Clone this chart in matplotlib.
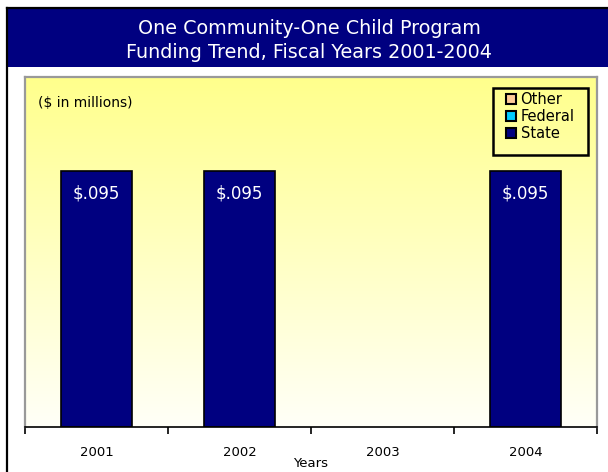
import matplotlib
matplotlib.use("Agg")
import matplotlib.pyplot as plt
import numpy as np
from matplotlib.patches import Rectangle, Patch
from matplotlib.lines import Line2D
from matplotlib.colors import LinearSegmentedColormap

years = ["2001", "2002", "2003", "2004"]
state = [0.095, 0.095, 0.0, 0.095]
federal = [0.0, 0.0, 0.0, 0.0]
other = [0.0, 0.0, 0.0, 0.0]
bar_labels = ["$.095", "$.095", "", "$.095"]
title_lines = ["One Community-One Child Program", "Funding Trend, Fiscal Years 2001-2004"]

navy = "#000080"
fig = plt.figure(figsize=(6.08, 4.72), dpi=100)
fig.patch.set_facecolor("white")

W, H = 608.0, 472.0
def fx(px): return px / W
def fy(py): return 1 - py / H

# outer black border (left and top)
fig.add_artist(Line2D([fx(7), fx(7)], [fy(8), 0], color="black", lw=1.6, transform=fig.transFigure))
fig.add_artist(Line2D([fx(7), 1], [fy(8), fy(8)], color="black", lw=1.6, transform=fig.transFigure))
# title band
fig.add_artist(Rectangle((fx(8), fy(67)), 1 - fx(8), fy(9) - fy(67), transform=fig.transFigure,
                         facecolor=navy, edgecolor="none"))
fig.text(fx(309), fy(29), title_lines[0], color="white", ha="center", va="center", fontsize=13.8)
fig.text(fx(309), fy(52), title_lines[1], color="white", ha="center", va="center", fontsize=13.8)

ax = fig.add_axes([fx(25), fy(427), fx(597) - fx(25), fy(77) - fy(427)])
x = np.arange(len(years))
ax.set_xlim(-0.5, len(years) - 0.5)
ax.set_ylim(0, 0.13)

# gradient background
cmap = LinearSegmentedColormap.from_list("g", ["#FFFFF8", "#FFFF8C"])
grad = np.linspace(0, 1, 256).reshape(-1, 1)
ax.imshow(grad, aspect="auto", cmap=cmap, origin="lower",
          extent=(-0.5, len(years) - 0.5, 0, 0.13), zorder=0)

b1 = ax.bar(x, state, width=0.5, color=navy, edgecolor="black", linewidth=1.2, zorder=2, label="State")
bottom2 = np.array(state)
b2 = ax.bar(x, federal, width=0.5, bottom=bottom2, color="#00CCFF", edgecolor="black", linewidth=1.2, zorder=2, label="Federal")
bottom3 = bottom2 + np.array(federal)
b3 = ax.bar(x, other, width=0.5, bottom=bottom3, color="#FFCC99", edgecolor="black", linewidth=1.2, zorder=2, label="Other")
for i in range(len(years)):
    if state[i] <= 0:
        b1[i].set_visible(False)
    if federal[i] <= 0:
        b2[i].set_visible(False)
    if other[i] <= 0:
        b3[i].set_visible(False)

for xi, v, lab in zip(x, state, bar_labels):
    if lab:
        ax.annotate(lab, (xi, v), xytext=(0, -16), textcoords="offset points",
                    ha="center", va="center", color="white", fontsize=12, zorder=3)

ax.set_yticks([])
ax.set_xticks(np.arange(len(years) + 1) - 0.5)
ax.set_xticklabels([])
ax.set_xticks(x, minor=True)
ax.set_xticklabels(years, minor=True, fontsize=9.5)
ax.tick_params(axis="x", which="major", direction="out", length=5, width=1.2, color="black")
ax.tick_params(axis="x", which="minor", length=0, pad=14)
ax.set_xlabel("Years", fontsize=9.5, labelpad=-1.5)

for s in ["left", "top", "right"]:
    ax.spines[s].set_color("#999999")
    ax.spines[s].set_linewidth(1.6)
ax.spines["bottom"].set_color("black")
ax.spines["bottom"].set_linewidth(1.2)

fig.text(fx(38), fy(103), "($ in millions)", fontsize=10, ha="left", va="center")

# legend frame
fig.add_artist(Rectangle((fx(493), fy(155)), fx(588) - fx(493), fy(88) - fy(155),
                         transform=fig.transFigure, facecolor="none", edgecolor="black", linewidth=1.8))
handles = [Patch(facecolor="#FFCC99", edgecolor="black", linewidth=1.5),
           Patch(facecolor="#00CCFF", edgecolor="black", linewidth=1.5),
           Patch(facecolor=navy, edgecolor="black", linewidth=1.5)]
leg = fig.legend(handles, ["Other", "Federal", "State"], loc="upper left",
                 bbox_to_anchor=(fx(506), fy(92)), fontsize=10.5, frameon=False,
                 handlelength=0.7, handleheight=0.7, handletextpad=0.3,
                 labelspacing=0.15, borderpad=0, borderaxespad=0)

fig.savefig("out.png", dpi=100)
